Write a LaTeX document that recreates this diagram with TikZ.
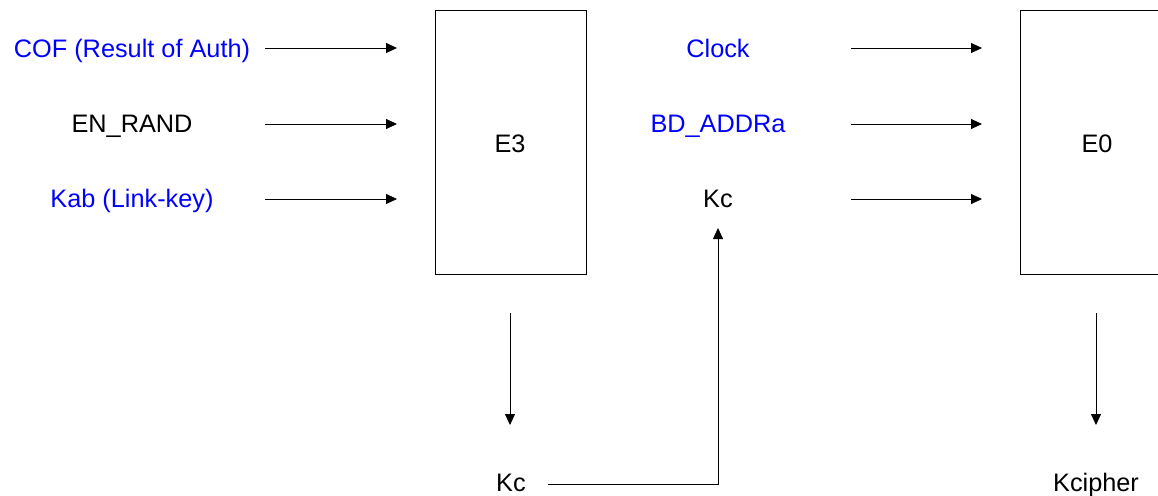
\documentclass[tikz,border=0pt]{standalone}
\usepackage{fontspec}
\setmainfont{Liberation Sans}
\usetikzlibrary{arrows.meta,positioning}
\definecolor{keyblue}{HTML}{0000FF}

\begin{document}
\begin{tikzpicture}[
                x=1pt, y=-1pt,
                >={Triangle[length=11pt,width=10pt]},
                font=\fontsize{25.3}{30}\selectfont,
                label/.style={anchor=base, inner sep=0pt},
                inlabel/.style={label, text=keyblue},
                block/.style={draw, line width=0.8pt, minimum width=151pt, minimum height=264pt,
                inner sep=0pt},
                flow/.style={->, line width=0.8pt},
                ]

                % ── Page: same size as the drawing ──
                \useasboundingbox (0,0) rectangle (1158,495);

                % ── Blocks ──
                \node[block] (E3) at (510.5,142) {};
                \node[label] (E3t) at (510,152) {E3};
                \node[block, minimum width=154pt] (E0) at (1097,142) {};
                \node[label] (E0t) at (1097,152) {E0};

                % ── Inputs of E3 ──
                \node[inlabel] (cof) at (132,57) {COF (Result of Auth)};
                \node[label] (rand) at (132,132) {EN\_RAND};
                \node[inlabel] (kab) at (132,207) {Kab (Link-key)};

                % ── Inputs of E0 ──
                \node[inlabel] (clock) at (718,57) {Clock};
                \node[inlabel] (addr) at (718,132) {BD\_ADDRa};
                \node[label] (kcin) at (718,207) {Kc};

                % ── Outputs ──
                \node[label] (kcout) at (511,491) {Kc};
                \node[label] (kciph) at (1096,491) {Kcipher};

                % input arrows, left and right
                \foreach \n/\y in {cof/48, rand/124, kab/199} {
                    \coordinate (\n-s) at (265,\y);
                    \coordinate (\n-e) at (397,\y);
                    \draw[flow] (\n-s) -- (\n-e);
                }
                \foreach \n/\y in {clock/48, addr/124, kc/199} {
                    \coordinate (\n-s) at (851,\y);
                    \coordinate (\n-e) at (982,\y);
                    \draw[flow] (\n-s) -- (\n-e);
                }

                % output arrows
                \coordinate (E3-o) at (510,313);
                \coordinate (E3-d) at (510,425);
                \draw[flow] (E3-o) -- (E3-d);
                \coordinate (E0-o) at (1096,313);
                \coordinate (E0-d) at (1096,425);
                \draw[flow] (E0-o) -- (E0-d);

                % Kc fed back up to E0
                \coordinate (back-s) at (548,484);
                \coordinate (back-e) at (718,228);
                \draw[flow] (back-s) -| (back-e);

\end{tikzpicture}
\end{document}
